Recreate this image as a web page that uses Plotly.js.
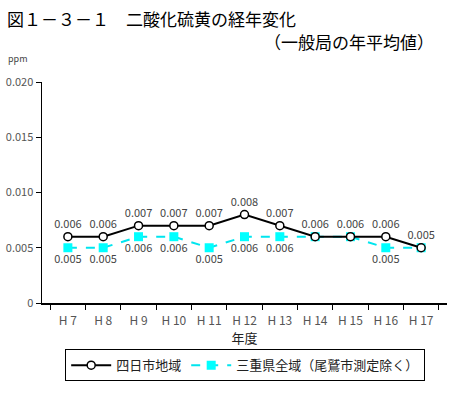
<!DOCTYPE html>
<html><head><meta charset="utf-8">
<script src="https://cdn.plot.ly/plotly-3.0.1.min.js"></script>
<style>body{margin:0;background:#fff}#c{width:460px;height:393px}</style>
</head><body><div id="c"></div>
<script>
const years = ["H 7","H 8","H 9","H 10","H 11","H 12","H 13","H 14","H 15","H 16","H 17"];
const yokkaichi = [0.006,0.006,0.007,0.007,0.007,0.008,0.007,0.006,0.006,0.006,0.005];
const mie = [0.005,0.005,0.006,0.006,0.005,0.006,0.006,0.006,0.006,0.005,0.005];
const yTicks = [0,0.005,0.010,0.015,0.020];
const yTickText = ["0","0.005","0.010","0.015","0.020"];

const F = '"Noto Sans CJK JP", "Noto Sans", sans-serif';
const mieText = mie.map((v,i)=> v===yokkaichi[i] ? "" : v.toFixed(3));

const traces = [
  {x: years, y: mie, name: "三重県全域（尾鷲市測定除く）", type: "scatter", mode: "lines+markers+text",
   line: {color: "#00e5ee", width: 2, dash: "dash"},
   marker: {symbol: "square", size: 9, color: "#00ffff"},
   text: mieText, textposition: "bottom center",
   textfont: {family: F, size: 11, color: "#444"}},
  {x: years, y: yokkaichi, name: "四日市地域", type: "scatter", mode: "lines+markers+text",
   line: {color: "#000", width: 2},
   marker: {symbol: "circle", size: 8, color: "#fff", line: {color: "#000", width: 1.5}},
   text: yokkaichi.map(v=>v.toFixed(3)), textposition: "top center",
   textfont: {family: F, size: 11, color: "#444"}}
];

const layout = {
  width: 460, height: 393,
  margin: {l: 42, r: 13, t: 82, b: 90},
  paper_bgcolor: "#fff", plot_bgcolor: "#fff",
  font: {family: F, size: 11, color: "#444"},
  showlegend: true,
  legend: {orientation: "h", x: 0.533, xanchor: "center", xref: "container", y: 0.03, yref: "container", yanchor: "bottom",
    bordercolor: "#000", borderwidth: 1, font: {family: F, size: 13, color: "#222"}, traceorder: "reversed", itemwidth: 40},
  xaxis: {type: "category", tickson: "boundaries", ticks: "outside", ticklen: 5, tickcolor: "#000",
    showline: true, linecolor: "#000", linewidth: 1.5, showgrid: false, zeroline: false,
    ticklabelstandoff: 6,
    tickfont: {family: F, size: 12, color: "#555"},
    title: {text: "年度", font: {family: F, size: 13, color: "#222"}, standoff: 6}},
  yaxis: {range: [0, 0.020], tickvals: yTicks, ticktext: yTickText, ticks: "outside", ticklen: 5, tickcolor: "#000",
    showline: true, linecolor: "#000", linewidth: 1.5, showgrid: false, zeroline: false,
    tickfont: {family: F, size: 11, color: "#555"}},
  annotations: [
    {text: "図１－３－１　二酸化硫黄の経年変化", showarrow: false, font: {family: F, size: 17, color: "#000"}},
    {text: "（一般局の年平均値）", showarrow: false, font: {family: F, size: 17, color: "#000"}},
    {text: "ppm", showarrow: false, font: {family: F, size: 9, color: "#444"}}
  ]
};
const pw = 460-42-13, ph = 393-82-90;
function px(x){return (x-42)/pw;} function py(y){return (393-90-y)/ph;}
layout.annotations[0].x = px(5); layout.annotations[0].y = py(4); layout.annotations[0].xanchor="left"; layout.annotations[0].yanchor="top";
layout.annotations[1].x = px(436); layout.annotations[1].y = py(27); layout.annotations[1].xanchor="right"; layout.annotations[1].yanchor="top";
layout.annotations[2].x = px(6); layout.annotations[2].y = py(50); layout.annotations[2].xanchor="left"; layout.annotations[2].yanchor="top";
layout.annotations.forEach(a=>{a.xref="paper";a.yref="paper";});

Plotly.newPlot("c", traces, layout, {displayModeBar: false, staticPlot: true});
</script></body></html>
